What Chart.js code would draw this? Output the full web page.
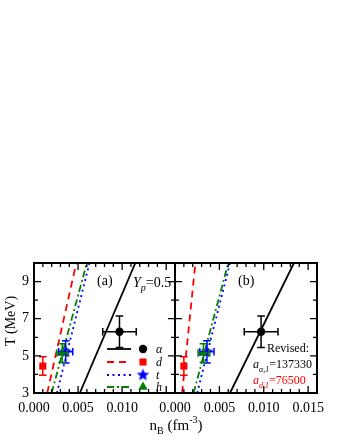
<!DOCTYPE html>
<html><head><meta charset="utf-8">
<script src="https://cdn.jsdelivr.net/npm/chart.js@4/dist/chart.umd.min.js"></script>
<style>
html,body{margin:0;padding:0;background:#fff;}
#wrap{position:relative;width:340px;height:440px;}
canvas{position:absolute;left:0;top:0;}
</style></head><body>
<div id="wrap"><canvas id="ca" width="340" height="440"></canvas><canvas id="cb" width="340" height="440"></canvas></div>
<script>
// ---------- data ----------
const species = ['α', 'd', 't', 'h'];
const colors = ['#000000', '#ff0000', '#0000ff', '#008000'];
// experimental points (same in both panels)
const expN    = [0.0097, 0.0010, 0.0036, 0.0032];
const expT    = [6.30,   4.45,   5.22,   5.15];
const expNErr = [0.0019, 0.0,    0.0008, 0.0006];
const expTErr = [0.85,   0.50,   0.60,   0.50];
// model curves: T values and densities
const curveT = [3, 10];
const panelA_alpha = [0.0052, 0.0115];
const panelA_d     = [0.0015, 0.0048];
const panelA_t     = [0.0026, 0.0063];
const panelA_h     = [0.0020, 0.0060];
const panelB_alpha = [0.0062, 0.0134];
const panelB_d     = [0.0008, 0.0023];
const panelB_t     = [0.0025, 0.0062];
const panelB_h     = [0.0021, 0.0060];
// ticks
const xTickLabelsA = [0, 0.005, 0.010];
const xTickLabelsB = [0, 0.005, 0.010, 0.015];
const yTickLabels = [3, 5, 7, 9];
const xRange = [0, 0.016];
const yRange = [3, 10];

// ---------- styling ----------
const FONT = '"Liberation Serif","Times New Roman",serif';
const dashes = [[], [7, 5], [2, 3.5], [7, 3, 2, 3]];

function makeStar(color, R) {
  const c = document.createElement('canvas');
  const s = Math.ceil(2 * R + 2);
  c.width = c.height = s;
  const g = c.getContext('2d');
  g.fillStyle = color;
  g.beginPath();
  for (let k = 0; k < 10; k++) {
    const r = k % 2 ? R * 0.45 : R;
    const ang = -Math.PI / 2 + k * Math.PI / 5;
    g.lineTo(s / 2 + r * Math.cos(ang), s / 2 + r * Math.sin(ang));
  }
  g.closePath();
  g.fill();
  return c;
}
const starImg = makeStar('#0000ff', 6.5);
const pointStyles = ['circle', 'rect', starImg, 'triangle'];
const pointRadii = [4.2, 5, 6.5, 5.5];

function pts(ns) { return ns.map((n, i) => ({x: n, y: curveT[i]})); }

function buildDatasets(curves) {
  const ds = [];
  const orderPts = [2, 1, 3, 0];
  for (let i = 0; i < 4; i++) {
    ds.push({
      type: 'scatter', data: [{x: expN[i], y: expT[i]}],
      pointStyle: pointStyles[i], pointRadius: pointRadii[i],
      backgroundColor: colors[i], borderColor: colors[i], borderWidth: 0,
      order: orderPts[i]
    });
  }
  for (let i = 0; i < 4; i++) {
    ds.push({
      type: 'line', data: pts(curves[i]), borderColor: colors[i],
      borderWidth: 1.8, borderDash: dashes[i], pointRadius: 0, fill: false,
      tension: 0, order: 10 + i
    });
  }
  return ds;
}

function richText(ctx, parts, x, y, align) {
  let w = 0;
  for (const p of parts) { ctx.font = (p[3] ? 'italic ' : '') + p[1] + 'px ' + FONT; w += ctx.measureText(p[0]).width; }
  let cx = align === 'center' ? x - w / 2 : (align === 'right' ? x - w : x);
  ctx.textAlign = 'left';
  ctx.textBaseline = 'alphabetic';
  for (const p of parts) {
    ctx.font = (p[3] ? 'italic ' : '') + p[1] + 'px ' + FONT;
    ctx.fillText(p[0], cx, y + p[2]);
    cx += ctx.measureText(p[0]).width;
  }
}

const framePlugin = {
  id: 'frameTicks',
  afterDatasetsDraw(chart) {
    const {ctx, chartArea: a, scales: {x, y}} = chart;
    ctx.save();
    for (let i = 0; i < 4; i++) {
      ctx.strokeStyle = colors[i];
      ctx.lineWidth = 1.5;
      const px = x.getPixelForValue(expN[i]), py = y.getPixelForValue(expT[i]);
      const cap = 3.8;
      ctx.beginPath();
      if (expNErr[i] > 0) {
        const l = x.getPixelForValue(expN[i] - expNErr[i]), r = x.getPixelForValue(expN[i] + expNErr[i]);
        ctx.moveTo(l, py); ctx.lineTo(r, py);
        ctx.moveTo(l, py - cap); ctx.lineTo(l, py + cap);
        ctx.moveTo(r, py - cap); ctx.lineTo(r, py + cap);
      }
      if (expTErr[i] > 0) {
        const t = y.getPixelForValue(expT[i] + expTErr[i]), b = y.getPixelForValue(expT[i] - expTErr[i]);
        ctx.moveTo(px, t); ctx.lineTo(px, b);
        ctx.moveTo(px - cap, t); ctx.lineTo(px + cap, t);
        ctx.moveTo(px - cap, b); ctx.lineTo(px + cap, b);
      }
      ctx.stroke();
    }
    ctx.strokeStyle = '#000';
    ctx.lineWidth = 2;
    ctx.strokeRect(a.left, a.top, a.right - a.left, a.bottom - a.top);
    ctx.lineWidth = 1.3;
    ctx.beginPath();
    for (let k = 0; k <= 16; k++) {
      const v = k * 0.001;
      if (v > x.max + 1e-9) break;
      const px = x.getPixelForValue(v);
      const len = (k % 5 === 0) ? 7 : 4;
      ctx.moveTo(px, a.bottom); ctx.lineTo(px, a.bottom - len);
      ctx.moveTo(px, a.top); ctx.lineTo(px, a.top + len);
    }
    for (let v = yRange[0]; v <= yRange[1]; v++) {
      const py = y.getPixelForValue(v);
      const len = (v % 2 === 1) ? 7 : 4;
      ctx.moveTo(a.left, py); ctx.lineTo(a.left + len, py);
      ctx.moveTo(a.right, py); ctx.lineTo(a.right - len, py);
    }
    ctx.stroke();
    ctx.restore();
  }
};

function drawPointShape(ctx, i, cx, cy) {
  ctx.fillStyle = colors[i];
  ctx.beginPath();
  if (i === 0) { ctx.arc(cx, cy, pointRadii[0], 0, Math.PI * 2); ctx.fill(); }
  else if (i === 1) { const s = pointRadii[1] * Math.SQRT1_2; ctx.fillRect(cx - s, cy - s, 2 * s, 2 * s); }
  else if (i === 2) { ctx.drawImage(starImg, cx - starImg.width / 2, cy - starImg.height / 2); }
  else {
    const r = pointRadii[3];
    ctx.moveTo(cx, cy - r); ctx.lineTo(cx + r * 0.866, cy + r * 0.5); ctx.lineTo(cx - r * 0.866, cy + r * 0.5);
    ctx.closePath(); ctx.fill();
  }
}

const annotA = {
  id: 'annotA',
  afterDraw(chart) {
    const {ctx} = chart;
    ctx.save();
    ctx.fillStyle = '#000';
    richText(ctx, [['(a)', 14, 0, false]], 97, 285, 'left');
    richText(ctx, [['Y', 14, 0, true], ['p', 10, 4, true], ['=0.5', 14, 0, false]], 133, 287, 'left');
    const rowY = [349, 362, 375, 387];
    for (let i = 0; i < 4; i++) {
      ctx.strokeStyle = colors[i];
      ctx.lineWidth = 1.8;
      ctx.setLineDash(dashes[i]);
      ctx.beginPath(); ctx.moveTo(107, rowY[i]); ctx.lineTo(131, rowY[i]); ctx.stroke();
      ctx.setLineDash([]);
      drawPointShape(ctx, i, 143, rowY[i]);
      ctx.fillStyle = '#000';
      richText(ctx, [[species[i], 12, 0, true]], 156, rowY[i] + 4, 'left');
    }
    ctx.fillStyle = '#000';
    ctx.save();
    ctx.translate(15, 321);
    ctx.rotate(-Math.PI / 2);
    richText(ctx, [['T (MeV)', 14, 0, false]], 0, 0, 'center');
    ctx.restore();
    richText(ctx, [['n', 15, 0, false], ['B', 10, 4, false], [' (fm', 15, 0, false], ['-3', 10, -7, false], [')', 15, 0, false]], 176, 430, 'center');
    ctx.restore();
  }
};

const annotB = {
  id: 'annotB',
  afterDraw(chart) {
    const {ctx} = chart;
    ctx.save();
    ctx.fillStyle = '#000';
    richText(ctx, [['(b)', 14, 0, false]], 238, 285, 'left');
    richText(ctx, [['Revised:', 12, 0, false]], 309, 352, 'right');
    richText(ctx, [['a', 12, 0, true], ['α,1', 8, 3.5, true], ['=137330', 12, 0, false]], 253, 368, 'left');
    ctx.fillStyle = '#ff0000';
    richText(ctx, [['a', 12, 0, true], ['d,1', 8, 3.5, true], ['=76500', 12, 0, false]], 253, 384, 'left');
    ctx.restore();
  }
};

function makeChart(id, curves, xLabels, isA, extraPlugin) {
  const tickFont = {family: FONT, size: 14};
  return new Chart(document.getElementById(id), {
    type: 'scatter',
    data: {datasets: buildDatasets(curves)},
    options: {
      responsive: false, animation: false, devicePixelRatio: 1,
      layout: {padding: isA ? {left: 0, right: 165, top: 263, bottom: 0} : {left: 175, right: 23, top: 263, bottom: 0}},
      plugins: {legend: {display: false}, tooltip: {enabled: false}},
      scales: {
        x: {
          type: 'linear', min: xRange[0], max: xRange[1],
          grid: {display: false, drawTicks: false}, border: {display: false},
          ticks: {
            stepSize: 0.005, includeBounds: false, autoSkip: false, maxRotation: 0,
            font: tickFont, color: '#000', padding: 7,
            callback: v => xLabels.some(t => Math.abs(t - v) < 1e-9) ? v.toFixed(3) : ''
          },
          afterFit: s => { s.height = 47; }
        },
        y: {
          type: 'linear', min: yRange[0], max: yRange[1], display: isA,
          grid: {display: false, drawTicks: false}, border: {display: false},
          ticks: {
            stepSize: 1, includeBounds: false, autoSkip: false,
            font: tickFont, color: '#000', padding: 5,
            callback: v => yTickLabels.includes(v) ? String(v) : ''
          },
          afterFit: s => { s.width = isA ? 34 : 0; }
        }
      }
    },
    plugins: [framePlugin, extraPlugin]
  });
}

makeChart('ca', [panelA_alpha, panelA_d, panelA_t, panelA_h], xTickLabelsA, true, annotA);
makeChart('cb', [panelB_alpha, panelB_d, panelB_t, panelB_h], xTickLabelsB, false, annotB);
</script>
</body></html>
